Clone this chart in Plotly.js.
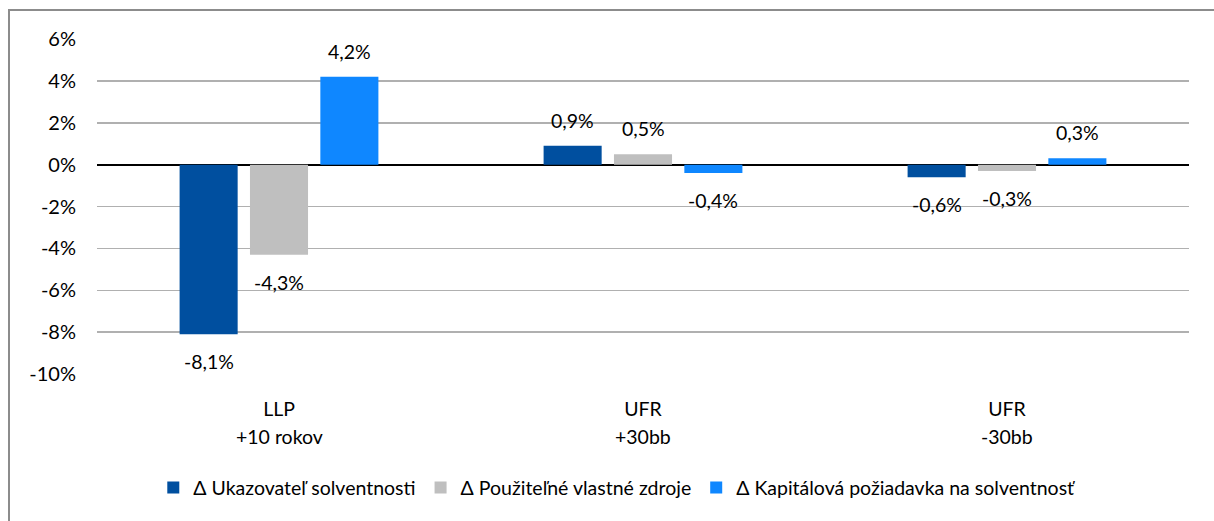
<!DOCTYPE html>
<html>
<head>
<meta charset="utf-8">
<script src="https://cdn.plot.ly/plotly-3.0.1.min.js"></script>
<style>
  html, body { margin: 0; padding: 0; background: #ffffff; }
  #wrap { position: relative; width: 1214px; height: 521px; overflow: hidden; }
  #frame { position: absolute; left: 8px; top: 9px; width: 1300px; height: 600px;
           border-top: 2px solid #8c8c8c; border-left: 2px solid #8c8c8c; z-index: 0; }
  #chart { position: absolute; left: 0; top: 0; width: 1214px; height: 521px; z-index: 1; }
</style>
</head>
<body>
<div id="wrap">
  <div id="frame"></div>
  <div id="chart"></div>
</div>
<script>
// ---- data ----
const categoriesLine1 = ['LLP', 'UFR', 'UFR'];
const categoriesLine2 = ['+10 rokov', '+30bb', '-30bb'];
const seriesNames = [
  '\u0394 Ukazovate\u013e solventnosti',
  '\u0394 Pou\u017eite\u013en\u00e9 vlastn\u00e9 zdroje',
  '\u0394 Kapit\u00e1lov\u00e1 po\u017eiadavka na solventnos\u0165'
];
const ukazovatelSolventnosti = [-8.1, 0.9, -0.6];
const pouzitelneVlastneZdroje = [-4.3, 0.5, -0.3];
const kapitalovaPoziadavka = [4.2, -0.4, 0.3];
const yTickVals = [6, 4, 2, 0, -2, -4, -6, -8, -10];
const yTickText = ['6%', '4%', '2%', '0%', '-2%', '-4%', '-6%', '-8%', '-10%'];

// ---- styles ----
const colors = ['#004f9f', '#bfbfbf', '#0f87ff'];
const FONT = 'Lato, Carlito, Calibri, "Open Sans", sans-serif';
const FS = 19.5;
const bargap = 0.42;
const bargroupgap = 0.175;

const xIdx = categoriesLine1.map((_, i) => i);
const allSeries = [ukazovatelSolventnosti, pouzitelneVlastneZdroje, kapitalovaPoziadavka];

const traces = allSeries.map((vals, s) => ({
  type: 'bar',
  name: seriesNames[s],
  x: xIdx,
  y: vals,
  marker: { color: colors[s], line: { width: 0 } },
  hoverinfo: 'skip'
}));

const fmt = v => v.toFixed(1).replace('.', ',') + '%';
const slot = (1 - bargap) / allSeries.length;

const annotations = [];
allSeries.forEach((vals, s) => {
  vals.forEach((v, i) => {
    annotations.push({
      xref: 'x', yref: 'y',
      x: i + (s - (allSeries.length - 1) / 2) * slot,
      y: v,
      text: fmt(v),
      showarrow: false,
      xanchor: 'center',
      yanchor: v >= 0 ? 'bottom' : 'top',
      yshift: v >= 0 ? 12 : -14,
      font: { family: FONT, size: FS, color: '#000' }
    });
  });
});
categoriesLine2.forEach((t, i) => {
  annotations.push({
    xref: 'x', yref: 'paper',
    x: i, y: 0,
    text: t,
    showarrow: false,
    xanchor: 'center', yanchor: 'middle',
    yshift: -62,
    font: { family: FONT, size: FS, color: '#000' }
  });
});

const layout = {
  width: 1214,
  height: 521,
  margin: { l: 97, r: 25, t: 39, b: 147 },
  paper_bgcolor: 'rgba(0,0,0,0)',
  plot_bgcolor: 'rgba(0,0,0,0)',
  font: { family: FONT, size: FS, color: '#000' },
  barmode: 'group',
  bargap: bargap,
  bargroupgap: bargroupgap,
  showlegend: true,
  legend: {
    orientation: 'h',
    x: 0.476, xanchor: 'center',
    y: -0.34, yanchor: 'middle',
    font: { family: FONT, size: FS, color: '#000' },
    itemwidth: 30,
    traceorder: 'normal'
  },
  xaxis: {
    range: [-0.5, 2.5],
    tickvals: xIdx,
    ticktext: categoriesLine1,
    showgrid: false,
    zeroline: false,
    showline: false,
    ticks: '',
    ticklabelstandoff: 21,
    tickfont: { family: FONT, size: FS, color: '#000' },
    fixedrange: true
  },
  yaxis: {
    range: [-10, 6],
    tickvals: yTickVals,
    ticktext: yTickText,
    showgrid: true,
    gridcolor: '#b0b0b0',
    gridwidth: 1.5,
    zeroline: true,
    zerolinecolor: '#000000',
    zerolinewidth: 2,
    showline: false,
    ticks: '',
    ticklabelstandoff: 20,
    tickfont: { family: FONT, size: 20, color: '#000' },
    fixedrange: true
  },
  annotations: annotations
};

Plotly.newPlot('chart', traces, layout, { staticPlot: true, displayModeBar: false });
</script>
</body>
</html>
